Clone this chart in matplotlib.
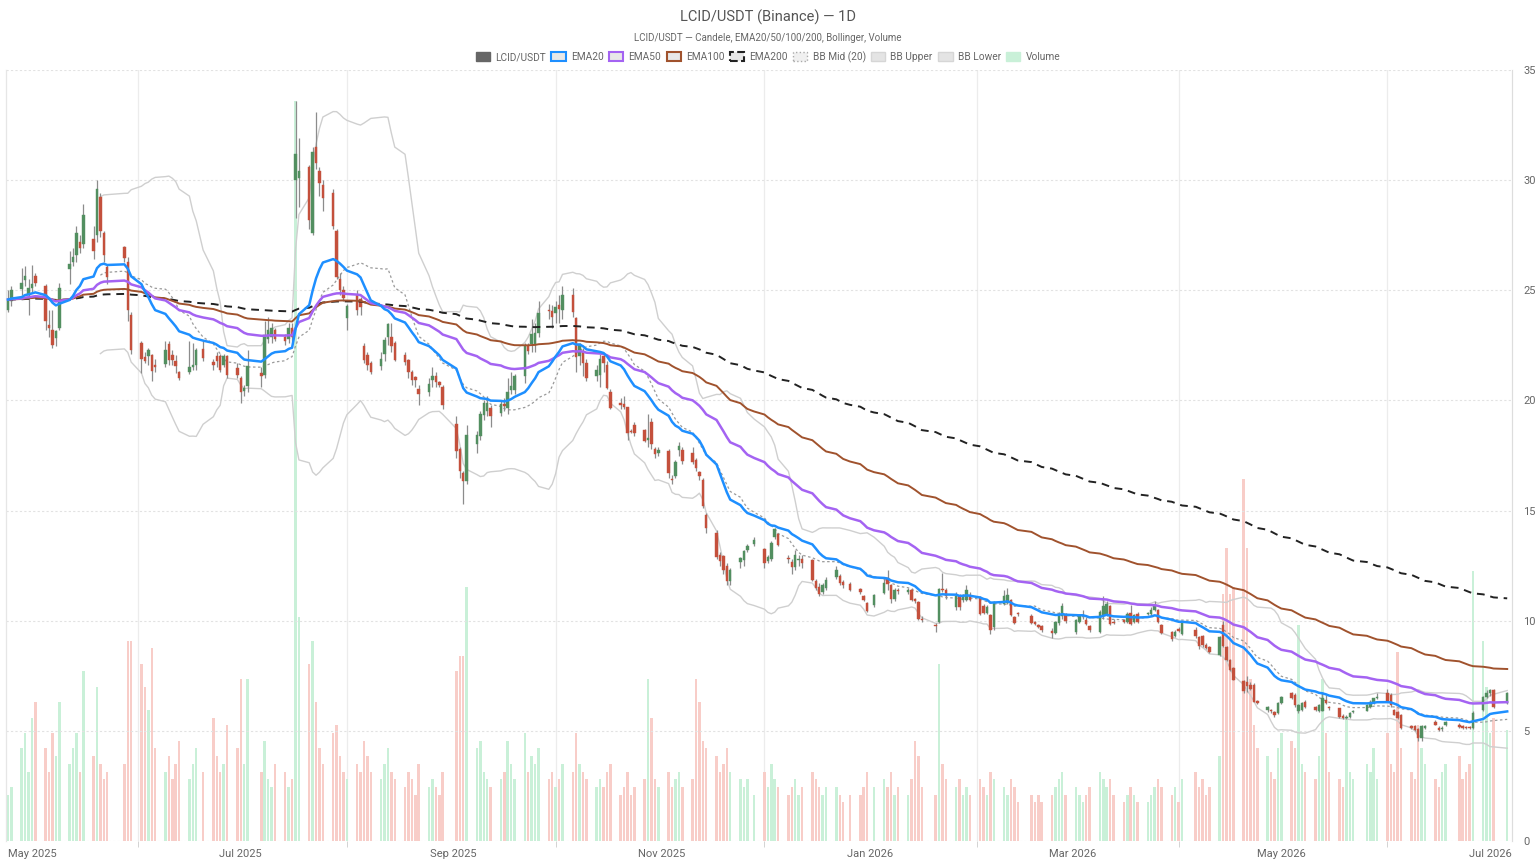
import numpy as np
import pandas as pd
import matplotlib
matplotlib.use("Agg")
import matplotlib.pyplot as plt
import matplotlib.dates as mdates
from matplotlib.patches import Patch

plt.rcParams['font.family'] = ['Roboto', 'DejaVu Sans']

# ---------------- data ----------------
missing_days = ["2025-05-26", "2025-05-27", "2025-06-19", "2025-07-04", "2025-09-01",
                "2025-11-27", "2025-12-25", "2026-01-01", "2026-01-19", "2026-02-16",
                "2026-04-03", "2026-05-25", "2026-06-19", "2026-07-03"]
dates = pd.bdate_range("2025-04-24", "2026-07-06", freq="C", holidays=missing_days)

opens = [24.12, 24.5, 25.06, 25.45, 24.8, 25.1, 25.67,
         25.18, 23.44, 23.21, 22.83, 23.29,
         25.95, 26.3, 26.6, 27.2, 27.1,
         27.35, 27.5, 29.25, 27.6, 26.05,
         26.95, 26.3, 23.9,
         22.6, 21.97, 22.0, 22.08, 21.6,
         21.67, 22.58, 22.08, 21.77, 21.27,
         21.3, 21.5, 21.6, 22.33,
         21.75, 22.0, 22.0, 21.6, 22.0,
         21.47, 21.0, 20.41, 20.64,
         21.25, 21.15, 22.8, 22.9, 23.2,
         22.9, 22.8, 23.3, 30.0, 30.1,
         30.6, 27.6, 31.5, 30.4, 29.8,
         29.4, 27.7, 25.5, 25.0, 23.75,
         24.8, 24.6, 22.45, 22.05, 21.7,
         21.55, 22.1, 22.9, 22.9, 22.6,
         22.05, 21.85, 21.3, 21.05, 20.5,
         20.4, 20.95, 21.1, 20.85, 20.6,
         18.95, 17.8, 16.7, 16.35,
         18.0, 18.4, 19.35, 19.5, 19.65,
         19.42, 19.85, 19.65, 20.48, 20.48,
         21.09, 22.45, 22.55, 22.5, 23.05,
         24.1, 24.05, 23.95, 24.35, 24.1,
         24.8, 23.75, 22.0, 22.25, 21.7,
         21.1, 21.15, 22.0, 21.6, 20.4,
         19.9, 19.85, 19.7, 18.6, 18.9,
         18.65, 18.2, 19.0, 17.8, 17.6,
         17.7, 16.45, 16.55, 17.75, 17.75,
         17.6, 17.3, 16.75, 16.4, 14.8,
         14.0, 13.0, 12.95, 12.5, 11.8,
         12.65, 12.75, 13.2, 13.5,
         13.25, 12.7, 12.8, 13.8, 13.95,
         12.85, 12.65, 12.45, 12.75, 12.82,
         12.75, 11.8, 11.55, 11.3, 11.5,
         12.0, 12.05, 11.78, 11.68,
         11.45, 11.1, 10.8, 10.7,
         11.25, 11.95, 11.6, 11.0, 11.4,
         11.3, 11.4, 11.0, 10.85, 10.1,
         9.8, 9.95, 11.45, 11.4,
         10.6, 11.1, 10.95, 10.95, 11.15,
         11.05, 10.66, 10.35, 10.25, 9.73,
         10.75, 10.8, 10.95, 10.15, 10.35,
         10.2, 9.95, 9.8, 9.75,
         9.55, 9.45, 9.9, 10.2, 10.3,
         9.5, 9.95, 10.2, 10.05, 9.75,
         9.5, 10.2, 10.25, 10.65, 9.95,
         10.05, 9.95, 10.35, 9.95, 10.3,
         10.3, 10.3, 10.5, 10.5, 9.8,
         9.5, 9.3, 9.62, 9.4,
         9.6, 9.25, 9.3, 8.9, 8.8,
         8.45, 9.8, 8.8, 8.2, 7.85,
         7.25, 7.2, 7.1, 7.08, 6.35,
         5.95, 5.95, 5.85, 5.8, 6.25,
         6.7, 6.63, 5.88, 5.95, 6.32,
         6.1, 5.92, 5.92, 6.4, 6.1,
         6.02, 5.68, 5.57, 5.62, 5.85,
         5.92, 6.1, 6.25, 6.5,
         6.7, 6.63, 5.95, 5.85, 5.72,
         5.2, 5.2, 5.1, 4.66, 5.12,
         5.42, 5.12, 5.07, 5.25,
         5.27, 5.2, 5.15, 5.15, 5.12,
         5.95, 6.55, 6.7, 6.85,
         6.25]

highs = [25.0, 25.2, 26.0, 26.1, 25.5, 26.17, 25.8,
         25.3, 24.12, 24.12, 23.2, 25.33,
         26.8, 26.9, 27.9, 27.5, 28.9,
         27.9, 30.0, 29.4, 27.7, 26.2,
         27.0, 26.5, 24.0,
         22.7, 22.2, 22.4, 22.1, 21.9,
         22.7, 22.7, 22.3, 22.08, 21.35,
         22.7, 22.6, 22.4, 22.75,
         21.9, 22.2, 22.1, 22.1, 22.05,
         21.7, 21.1, 20.7, 22.3,
         21.5, 23.6, 23.8, 23.5, 23.3,
         23.0, 23.5, 23.5, 33.6, 31.9,
         30.7, 31.5, 33.1, 30.6, 30.0,
         29.6, 27.8, 25.8, 25.2, 24.4,
         25.0, 24.7, 22.6, 22.2, 21.8,
         22.2, 22.9, 23.5, 23.5, 22.7,
         22.2, 21.9, 21.4, 21.1, 20.7,
         21.0, 21.5, 21.3, 20.9, 20.7,
         19.3, 17.9, 16.8, 18.9,
         18.6, 19.5, 20.0, 20.2, 19.8,
         20.0, 20.1, 21.0, 21.3, 21.2,
         22.6, 22.6, 23.7, 23.5, 24.5,
         24.4, 24.35, 24.5, 24.8, 25.2,
         25.1, 23.8, 22.6, 22.4, 21.9,
         21.6, 22.1, 22.1, 21.8, 20.5,
         20.1, 20.2, 19.7, 18.7, 19.0,
         18.7, 19.4, 19.2, 17.9, 17.9,
         17.8, 16.6, 17.3, 18.1, 17.9,
         17.9, 17.4, 16.8, 16.5, 14.9,
         14.1, 13.1, 13.0, 12.6, 12.4,
         12.9, 13.2, 13.5, 13.8,
         13.3, 13.0, 13.6, 14.2, 14.0,
         13.0, 12.8, 13.2, 13.0, 13.0,
         12.8, 11.9, 11.7, 11.7, 12.0,
         12.5, 12.1, 11.85, 11.75,
         11.5, 11.15, 10.85, 11.2,
         11.9, 12.3, 11.65, 11.5, 11.5,
         11.5, 11.5, 11.05, 10.9, 10.2,
         9.9, 11.5, 12.15, 11.5,
         11.3, 11.2, 11.2, 11.6, 11.3,
         11.1, 10.75, 10.7, 10.3, 10.9,
         11.4, 11.5, 11.0, 10.2, 10.4,
         10.3, 10.0, 9.85, 9.8,
         9.65, 10.0, 10.4, 10.8, 10.35,
         10.1, 10.3, 10.5, 10.15, 9.8,
         10.5, 11.1, 10.9, 10.7, 10.1,
         10.1, 10.4, 10.7, 10.3, 10.4,
         10.4, 10.6, 10.9, 10.55, 9.85,
         9.55, 9.6, 9.7, 10.0,
         9.7, 9.3, 9.35, 9.0, 8.85,
         9.3, 10.0, 8.85, 8.25, 7.9,
         7.3, 7.5, 7.2, 7.15, 6.4,
         6.15, 6.0, 5.9, 6.3, 6.6,
         6.78, 6.7, 6.2, 6.3, 6.4,
         6.15, 6.2, 6.75, 6.65, 6.15,
         6.05, 5.75, 5.7, 5.85, 5.95,
         6.2, 6.4, 6.5, 6.7,
         6.9, 6.7, 6.0, 5.9, 5.75,
         5.25, 5.25, 5.15, 5.25, 5.25,
         5.5, 5.2, 5.2, 5.45,
         5.35, 5.25, 5.2, 5.2, 5.9,
         6.6, 6.85, 6.9, 6.9,
         6.75]

lows = [24.0, 24.3, 24.8, 25.2, 23.9, 24.88, 25.2,
        23.2, 22.9, 22.38, 22.45, 23.2,
        25.3, 26.1, 26.3, 26.7, 26.9,
        26.4, 27.2, 27.4, 26.3, 25.3,
        26.3, 23.6, 22.1,
        21.24, 21.7, 21.6, 20.86, 21.3,
        21.5, 21.6, 21.6, 21.24, 20.95,
        21.2, 21.4, 21.4, 21.8,
        21.4, 21.5, 21.3, 21.5, 21.0,
        21.0, 19.88, 20.2, 20.4,
        20.6, 21.0, 22.6, 22.6, 22.7,
        22.5, 22.6, 22.7, 28.3, 28.8,
        27.8, 27.5, 30.5, 29.3, 28.6,
        27.8, 25.5, 24.8, 24.5, 23.2,
        23.9, 23.9, 21.7, 21.4, 21.2,
        21.4, 21.8, 22.5, 22.2, 21.8,
        21.6, 21.0, 20.7, 20.6, 19.8,
        20.2, 20.6, 20.6, 20.6, 19.6,
        17.4, 16.5, 15.3, 16.2,
        17.6, 18.2, 19.1, 19.3, 18.8,
        19.3, 19.5, 19.4, 20.3, 20.3,
        20.8, 22.1, 22.2, 22.2, 22.9,
        23.7, 23.3, 23.5, 23.5, 23.7,
        23.8, 21.3, 21.6, 21.1, 20.9,
        20.9, 20.6, 21.3, 20.5, 19.6,
        19.6, 19.6, 18.2, 18.5, 18.4,
        18.1, 17.9, 17.8, 17.4, 17.5,
        16.5, 16.2, 16.5, 17.5, 17.1,
        17.1, 16.8, 16.4, 15.1, 14.0,
        12.8, 12.5, 12.1, 11.6, 11.6,
        12.4, 12.5, 13.1, 13.4,
        12.4, 12.6, 12.7, 13.7, 13.4,
        12.6, 12.1, 12.3, 12.5, 12.4,
        11.8, 11.4, 11.1, 11.2, 11.4,
        11.9, 11.6, 11.5, 11.35,
        11.2, 10.9, 10.4, 10.6,
        11.2, 11.4, 10.8, 10.9, 11.2,
        11.2, 10.9, 10.8, 10.05, 9.95,
        9.5, 9.9, 11.3, 11.0,
        10.5, 10.5, 10.85, 10.9, 10.9,
        10.25, 10.3, 10.3, 9.4, 9.6,
        10.7, 10.75, 10.2, 9.85, 10.2,
        9.85, 9.8, 9.65, 9.5,
        9.2, 9.4, 9.8, 10.1, 9.9,
        9.4, 9.9, 10.1, 9.8, 9.5,
        9.45, 10.1, 10.2, 9.8, 9.85,
        9.9, 9.9, 9.8, 9.9, 9.9,
        10.25, 10.25, 10.45, 9.9, 9.4,
        9.1, 9.25, 9.5, 9.35,
        9.2, 8.7, 8.8, 8.7, 8.55,
        8.4, 8.8, 8.15, 7.7, 7.3,
        6.7, 6.75, 6.85, 6.3, 6.2,
        5.85, 5.8, 5.65, 5.75, 6.2,
        6.45, 6.1, 5.8, 5.9, 6.05,
        5.9, 5.85, 5.9, 6.2, 5.95,
        5.6, 5.52, 5.52, 5.6, 5.8,
        5.9, 6.05, 6.2, 6.45,
        6.3, 6.1, 5.7, 5.55, 5.1,
        5.1, 5.0, 4.55, 4.55, 5.1,
        5.25, 5.0, 5.0, 5.2,
        5.15, 5.1, 5.1, 5.1, 5.1,
        5.9, 6.5, 6.6, 6.05,
        6.2]

closes = [24.58, 25.03, 25.33, 25.67, 25.1, 25.3, 25.33,
          23.59, 23.29, 22.53, 23.14, 25.1,
          26.2, 26.5, 27.6, 26.9, 28.4,
          26.8, 29.6, 27.7, 26.6, 25.6,
          26.45, 24.12, 22.3,
          21.9, 21.8, 22.3, 21.32, 21.5,
          22.3, 21.85, 21.85, 21.58, 21.02,
          21.5, 21.6, 22.3, 21.92,
          21.6, 21.77, 21.4, 22.0, 21.17,
          21.17, 20.4, 20.56, 21.58,
          21.1, 22.95, 23.2, 23.3, 22.8,
          22.7, 23.3, 22.9, 31.2, 30.4,
          28.2, 31.3, 30.8, 29.85, 29.2,
          27.9, 25.6, 25.0, 24.65, 24.3,
          24.1, 24.25, 21.85, 21.6, 21.3,
          21.9, 22.75, 23.45, 22.45, 21.85,
          21.75, 21.3, 20.95, 20.95, 20.3,
          20.75, 21.1, 20.85, 20.7, 19.8,
          17.7, 16.8, 16.35, 18.45,
          18.45, 19.4, 19.9, 19.9, 19.3,
          19.85, 19.75, 20.36, 20.67, 21.12,
          22.45, 22.25, 23.0, 23.05, 23.95,
          24.05, 23.8, 24.25, 24.15, 24.8,
          24.0, 21.95, 22.55, 21.7, 21.0,
          21.4, 21.9, 21.7, 20.55, 19.65,
          19.8, 19.7, 18.5, 18.55, 18.5,
          18.15, 18.3, 18.0, 17.55, 17.75,
          16.7, 16.4, 17.2, 17.95, 17.25,
          17.2, 16.95, 16.55, 15.2, 14.2,
          12.9, 12.7, 12.3, 11.8, 12.3,
          12.85, 13.15, 13.4, 13.65,
          12.6, 12.9, 13.55, 14.15, 13.45,
          12.8, 12.45, 12.98, 12.8, 12.6,
          11.85, 11.5, 11.2, 11.6, 11.85,
          12.3, 11.7, 11.6, 11.4,
          11.3, 10.95, 10.45, 11.15,
          11.7, 11.65, 11.0, 11.4, 11.35,
          11.4, 10.95, 10.9, 10.1, 10.05,
          9.75, 11.45, 11.4, 11.1,
          11.1, 10.6, 11.15, 11.4, 10.95,
          10.3, 10.36, 10.6, 9.6, 10.85,
          11.1, 11.15, 10.25, 9.9, 10.3,
          9.9, 9.85, 9.72, 9.6,
          9.45, 9.95, 10.3, 10.65, 10.0,
          10.05, 10.2, 10.25, 9.85, 9.6,
          10.4, 10.65, 10.75, 9.85, 9.9,
          9.95, 10.3, 9.85, 10.25, 9.95,
          10.35, 10.5, 10.7, 9.95, 9.45,
          9.15, 9.5, 9.55, 9.95,
          9.3, 8.85, 8.9, 8.75, 8.6,
          9.25, 8.85, 8.2, 7.75, 7.3,
          6.8, 7.05, 6.9, 6.32, 6.25,
          6.1, 5.88, 5.72, 6.25, 6.55,
          6.5, 6.17, 6.17, 6.25, 6.1,
          5.95, 6.17, 6.47, 6.25, 6.02,
          5.65, 5.58, 5.65, 5.8, 5.88,
          6.17, 6.32, 6.47, 6.55,
          6.32, 6.17, 5.72, 5.6, 5.12,
          5.12, 5.04, 4.66, 5.2, 5.2,
          5.27, 5.04, 5.12, 5.4,
          5.17, 5.12, 5.14, 5.13, 5.8,
          6.55, 6.7, 6.85, 6.1,
          6.7]

# volume in thousands of shares (approximate)
volumes = [60, 70, 120, 140, 90, 160, 180,
           120, 90, 140, 110, 180,
           100, 120, 140, 90, 220,
           110, 200, 100, 80, 90,
           100, 260, 260,
           230, 200, 170, 250, 120,
           90, 110, 80, 100, 130,
           80, 100, 120, 90,
           160, 110, 90, 100, 150,
           120, 210, 100, 210,
           90, 130, 80, 70, 100,
           90, 70, 80, 960, 290,
           230, 260, 180, 120, 100,
           140, 150, 110, 90, 80,
           100, 90, 130, 110, 90,
           80, 100, 120, 90, 80,
           70, 90, 80, 60, 100,
           70, 80, 70, 60, 90,
           220, 240, 240, 330,
           120, 130, 90, 80, 70,
           80, 90, 130, 100, 80,
           140, 90, 110, 100, 120,
           80, 90, 70, 80, 100,
           90, 140, 100, 90, 80,
           70, 80, 70, 90, 100,
           60, 70, 90, 60, 70,
           80, 210, 160, 80, 70,
           90, 70, 80, 90, 70,
           80, 210, 180, 130, 120,
           110, 90, 100, 120, 90,
           80, 70, 80, 60,
           90, 70, 100, 80, 70,
           60, 70, 80, 60, 70,
           90, 80, 70, 60, 70,
           70, 60, 50, 60,
           60, 70, 90, 70,
           80, 70, 90, 60, 70,
           60, 80, 130, 110, 70,
           60, 230, 100, 80,
           70, 80, 60, 70, 60,
           80, 70, 60, 90, 80,
           70, 60, 80, 70, 50,
           60, 50, 60, 50,
           60, 70, 80, 90, 60,
           70, 60, 50, 60, 70,
           90, 80, 70, 80, 60,
           50, 60, 70, 60, 50,
           50, 60, 70, 80, 70,
           60, 70, 50, 80,
           90, 70, 80, 60, 70,
           110, 320, 380, 320, 330,
           470, 380, 210, 150, 120,
           110, 90, 80, 120, 140,
           130, 120, 280, 100, 90,
           80, 110, 210, 140, 90,
           80, 70, 160, 90, 80,
           100, 90, 120, 80,
           140, 100, 90, 245, 120,
           90, 80, 150, 120, 100,
           80, 70, 90, 100,
           110, 80, 90, 100, 350,
           260, 200, 140, 160,
           144]

n = min(len(dates), len(opens), len(highs), len(lows), len(closes), len(volumes))
df = pd.DataFrame({"open": opens[:n], "high": highs[:n], "low": lows[:n],
                   "close": closes[:n], "volume": volumes[:n]}, index=dates[:n])

# indicators (derived from the closes)
c = df["close"]
ema20 = c.ewm(span=20, adjust=False).mean()
ema50 = c.ewm(span=50, adjust=False).mean()
ema100 = c.ewm(span=100, adjust=False).mean()
ema200 = c.ewm(span=200, adjust=False).mean()
bb_mid = c.rolling(20).mean()
bb_std = c.rolling(20).std(ddof=0)
bb_up = bb_mid + 2 * bb_std
bb_lo = bb_mid - 2 * bb_std

# ---------------- style ----------------
UP = "#528f60"
DOWN = "#c4503c"
VOL_UP = "#c9f0d8"
VOL_DOWN = "#f8cdc8"

fig = plt.figure(figsize=(15.36, 8.64), dpi=100)
L, R = 6 / 1536, 1512 / 1536
B, T = 1 - 841 / 864, 1 - 70 / 864
axv = fig.add_axes([L, B, R - L, T - B])
axp = axv.twinx()

x = mdates.date2num(df.index.to_pydatetime())
up = (df["close"] >= df["open"]).values

# volume
axv.bar(x, df["volume"], width=0.72, color=np.where(up, VOL_UP, VOL_DOWN),
        linewidth=0, zorder=1)
axv.set_ylim(0, 1000)
axv.set_yticks([])

# price
axp.vlines(x, df["low"], df["high"], color="#8c8c8c", linewidth=0.9, zorder=3)
body_bottom = np.minimum(df["open"], df["close"])
body_h = np.maximum(np.abs(df["close"] - df["open"]), 0.04)
axp.bar(x, body_h, bottom=body_bottom, width=0.72,
        color=np.where(up, UP, DOWN), edgecolor=np.where(up, UP, DOWN),
        linewidth=0.3, zorder=4)

axp.plot(x, bb_up, color="#cfcfcf", lw=1.0, zorder=2)
axp.plot(x, bb_lo, color="#cfcfcf", lw=1.0, zorder=2)
axp.plot(x, bb_mid, color="#9a9a9a", lw=0.9, ls=(0, (2, 2)), zorder=2)
axp.plot(x, ema200, color="#222222", lw=1.4, ls=(0, (4, 3)), zorder=5)
axp.plot(x, ema100, color="#a0522d", lw=1.4, zorder=5)
axp.plot(x, ema50, color="#a463f2", lw=1.8, zorder=5)
axp.plot(x, ema20, color="#1e8fff", lw=1.8, zorder=6)

axp.set_ylim(0, 35)
axp.set_yticks(np.arange(0, 36, 5))
axp.tick_params(axis="y", length=0, labelsize=8, colors="#666666", pad=8)
axp.grid(axis="y", color="#e2e2e2", ls=(0, (2, 2)), lw=0.8)

x0 = mdates.date2num(pd.Timestamp("2025-04-24").to_pydatetime())
axv.set_xlim(x0 - 0.58, x0 + 439.4)

major = pd.to_datetime(["2025-05-01", "2025-07-01", "2025-09-01", "2025-11-01",
                        "2026-01-01", "2026-03-01", "2026-05-01", "2026-07-01"])
minor = pd.to_datetime(["2025-06-01", "2025-08-01", "2025-10-01", "2025-12-01",
                        "2026-02-01", "2026-04-01", "2026-06-01"])
axv.set_xticks(mdates.date2num(major.to_pydatetime()))
axv.set_xticklabels([d.strftime("%b %Y") for d in major])
axv.set_xticks(mdates.date2num(minor.to_pydatetime()), minor=True)
axv.tick_params(axis="x", which="major", length=0, labelsize=8, colors="#666666", pad=6)
axv.tick_params(axis="x", which="minor", length=4, color="#cccccc")
axv.grid(axis="x", which="minor", color="#ececec", lw=0.9)
axv.set_axisbelow(True)

for a in (axv, axp):
    a.spines["top"].set_visible(False)
    a.spines["bottom"].set_visible(False)
    a.spines["left"].set_color("#e6e6e6")
    a.spines["right"].set_color("#dddddd")

fig.text(0.5, 1 - 17 / 864, "LCID/USDT (Binance) — 1D", ha="center", va="center",
         fontsize=10.5, color="#555555")
fig.text(0.5, 1 - 38 / 864, "LCID/USDT — Candele, EMA20/50/100/200, Bollinger, Volume",
         ha="center", va="center", fontsize=7, color="#666666")

handles = [
    Patch(facecolor="#666666", edgecolor="#666666", label="LCID/USDT"),
    Patch(facecolor="#e8e8e8", edgecolor="#1e8fff", lw=1.5, label="EMA20"),
    Patch(facecolor="#e8e8e8", edgecolor="#a463f2", lw=1.5, label="EMA50"),
    Patch(facecolor="#e8e8e8", edgecolor="#a0522d", lw=1.5, label="EMA100"),
    Patch(facecolor="#e8e8e8", edgecolor="#222222", lw=1.5, ls="--", label="EMA200"),
    Patch(facecolor="#f0f0f0", edgecolor="#aaaaaa", lw=1.0, ls=":", label="BB Mid (20)"),
    Patch(facecolor="#e4e4e4", edgecolor="#d6d6d6", lw=1.0, label="BB Upper"),
    Patch(facecolor="#e4e4e4", edgecolor="#d6d6d6", lw=1.0, label="BB Lower"),
    Patch(facecolor=VOL_UP, edgecolor=VOL_UP, label="Volume"),
]
fig.legend(handles=handles, loc="center", bbox_to_anchor=(0.5, 1 - 57 / 864),
           ncol=9, frameon=False, fontsize=7.3, handlelength=1.4, handleheight=1.0,
           handletextpad=0.5, columnspacing=0.55, labelcolor="#666666")

fig.savefig("out.png", dpi=100)
